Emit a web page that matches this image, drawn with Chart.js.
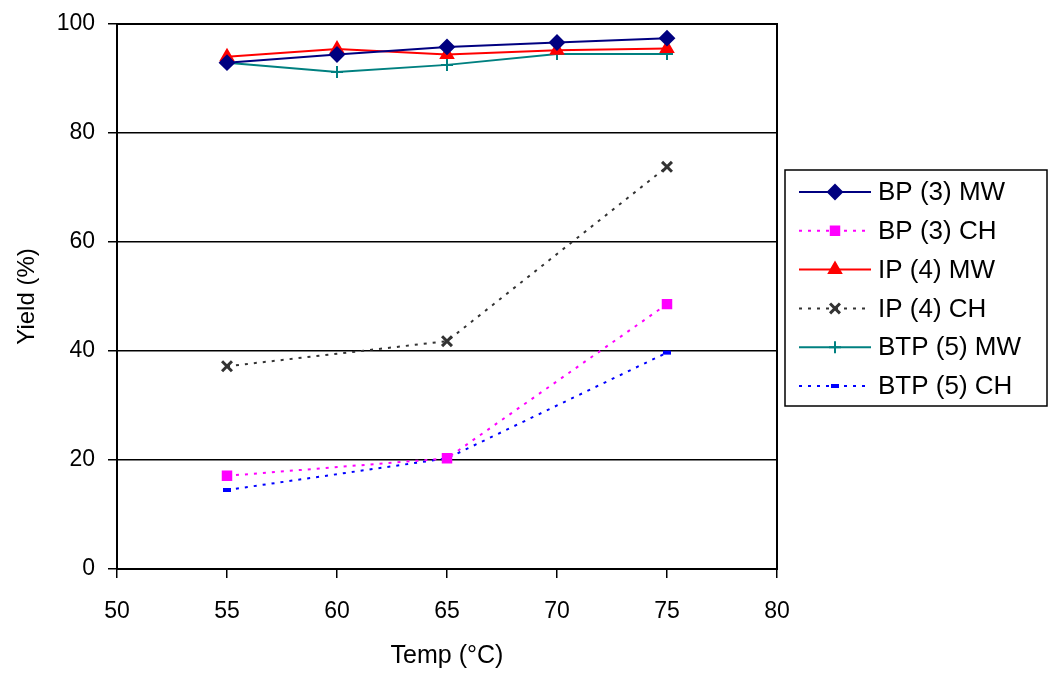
<!DOCTYPE html>
<html>
<head>
<meta charset="utf-8">
<script src="https://cdn.jsdelivr.net/npm/chart.js@4/dist/chart.umd.min.js"></script>
<style>
  html, body { margin: 0; padding: 0; background: #fff; }
  #wrap { width: 1050px; height: 681px; }
</style>
</head>
<body>
<div id="wrap"><canvas id="canvas1" width="1050" height="681"></canvas></div>
<script>
// Yield vs temperature, MW and CH runs
var temps = [55, 60, 65, 70, 75];
var chTemps = [55, 65, 75];
var xTicks = [50, 55, 60, 65, 70, 75, 80];
var yTicks = [0, 20, 40, 60, 80, 100];

var bp3MW = [92.9, 94.4, 95.8, 96.6, 97.4];
var ip4MW = [94.0, 95.4, 94.4, 95.2, 95.5];
var btp5MW = [92.9, 91.2, 92.5, 94.5, 94.5];
var bp3CH = [17.1, 20.3, 48.6];
var ip4CH = [37.2, 41.8, 73.8];
var btp5CH = [14.5, 20.3, 39.7];

function pts(xs, ys) {
    return xs.map(function (x, i) { return { x: x, y: ys[i] }; });
}

var datasets = [{
    label: 'BP (3) MW',
    data: pts(temps, bp3MW),
    borderColor: '#000080', backgroundColor: '#000080',
    borderWidth: 2, pointStyle: 'rectRot', pointRadius: 7
}, {
    label: 'BP (3) CH',
    data: pts(chTemps, bp3CH),
    borderColor: '#ff00ff', backgroundColor: '#ff00ff',
    borderWidth: 2, borderDash: [3, 6], pointStyle: 'rect', pointRadius: 6
}, {
    label: 'IP (4) MW',
    data: pts(temps, ip4MW),
    borderColor: '#ff0000', backgroundColor: '#ff0000',
    borderWidth: 2, pointStyle: 'triangle', pointRadius: 7
}, {
    label: 'IP (4) CH',
    data: pts(chTemps, ip4CH),
    borderColor: '#333333', backgroundColor: '#333333',
    borderWidth: 2, borderDash: [3, 6], pointStyle: 'crossRot', pointRadius: 7, pointBorderWidth: 3
}, {
    label: 'BTP (5) MW',
    data: pts(temps, btp5MW),
    borderColor: '#008080', backgroundColor: '#008080',
    borderWidth: 2, pointStyle: 'cross', pointRadius: 6
}, {
    label: 'BTP (5) CH',
    data: pts(chTemps, btp5CH),
    borderColor: '#0000ff', backgroundColor: '#0000ff',
    borderWidth: 2, borderDash: [3, 6], pointStyle: 'line', pointRadius: 4, pointBorderWidth: 4
}];

var boxPlugin = {
    id: 'boxPlugin',
    afterDraw: function (chart) {
        var ctx = chart.ctx, a = chart.chartArea;
        ctx.save();
        ctx.strokeStyle = '#000';
        ctx.lineWidth = 2;
        ctx.strokeRect(a.left, a.top, a.right - a.left, a.bottom - a.top);

        // legend box
        var lx = 785, ly = 170, lw = 262, lh = 236;
        ctx.lineWidth = 1.5;
        ctx.strokeRect(lx, ly, lw, lh);
        ctx.font = '26px "Liberation Sans", Arial, sans-serif';
        ctx.textBaseline = 'middle';
        chart.data.datasets.forEach(function (ds, i) {
            var y = 192 + i * 38.8;
            ctx.strokeStyle = ds.borderColor;
            ctx.fillStyle = ds.backgroundColor;
            ctx.lineWidth = 2;
            ctx.setLineDash(ds.borderDash || []);
            ctx.beginPath();
            ctx.moveTo(799, y);
            ctx.lineTo(871, y);
            ctx.stroke();
            ctx.setLineDash([]);
            ctx.lineWidth = ds.pointBorderWidth || 2;
            Chart.helpers.drawPoint(ctx, {
                pointStyle: ds.pointStyle, radius: ds.pointRadius, rotation: 0,
                borderWidth: ds.pointBorderWidth || 2
            }, 835, y);
            ctx.fillStyle = '#000';
            ctx.fillText(ds.label, 878, y + 1);
        });
        ctx.restore();
    }
};

var ctx1 = document.getElementById('canvas1').getContext('2d');
window.myLine = new Chart(ctx1, {
    type: 'line',
    data: { datasets: datasets },
    plugins: [boxPlugin],
    options: {
        responsive: false,
        animation: false,
        layout: { padding: { left: 0, right: 273, top: 24, bottom: 0 } },
        plugins: {
            legend: { display: false },
            tooltip: { enabled: false }
        },
        scales: {
            x: {
                type: 'linear',
                min: 50, max: 80,
                afterBuildTicks: function (s) { s.ticks = xTicks.map(function (v) { return { value: v }; }); },
                afterFit: function (s) { s.height = 112; },
                grid: { drawOnChartArea: false, tickColor: '#000', tickLength: 9, lineWidth: 1.5 },
                border: { color: '#000', width: 2 },
                ticks: { color: '#000', font: { size: 23, family: '"Liberation Sans", Arial' }, padding: 20 },
                title: { display: true, text: 'Temp (°C)', color: '#000', font: { size: 25, family: '"Liberation Sans", Arial' }, padding: { top: 0, bottom: 10 } }
            },
            y: {
                min: 0, max: 100,
                afterBuildTicks: function (s) { s.ticks = yTicks.map(function (v) { return { value: v }; }); },
                afterFit: function (s) { s.width = 117; s.paddingTop = 0; s.paddingBottom = 0; },
                grid: { color: '#000', tickColor: '#000', tickLength: 9, lineWidth: 1.5 },
                border: { color: '#000', width: 2 },
                ticks: { color: '#000', font: { size: 23, family: '"Liberation Sans", Arial' }, padding: 13 },
                title: { display: true, text: 'Yield (%)', color: '#000', font: { size: 24, family: '"Liberation Sans", Arial' }, padding: { top: 13, bottom: 0 } }
            }
        }
    }
});
</script>
</body>
</html>
